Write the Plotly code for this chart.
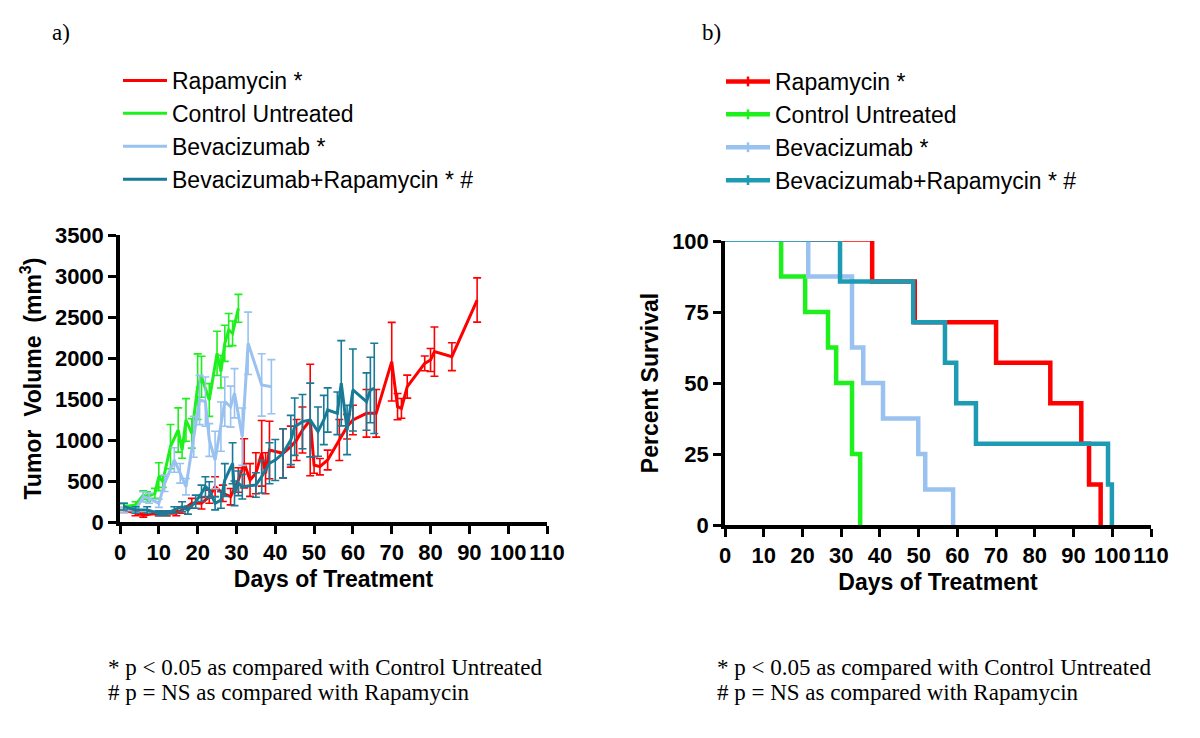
import plotly.graph_objects as go

# ---------------- Panel a: tumour volume ----------------
rapa_days = [1, 4, 6, 10, 12, 14.5, 16, 18.5, 21, 23, 24.5, 26.5, 28.5, 30.5, 32, 33.5, 35, 36.5, 37.5, 38.5,
             42, 44, 45.5, 47, 49, 50, 51.5, 53.5, 56.5, 58.5, 60, 63.5, 66, 70, 71.5, 72.5, 74, 78.5, 80, 81,
             85.5, 92]
rapa_vol = [146, 106, 85, 106, 106, 106, 146, 228, 228, 309, 431, 350, 309, 512, 716, 512, 594, 838, 594, 878,
            838, 919, 1000, 1122, 1244, 695, 675, 756, 1000, 1163, 1244, 1325, 1325, 1955, 1407, 1386, 1651, 1935,
            1976, 2078, 2016, 2707]
rapa_sem = [30, 30, 25, 30, 30, 30, 40, 60, 70, 80, 120, 100, 100, 150, 300, 200, 250, 400, 250, 350,
            300, 250, 250, 280, 680, 100, 100, 120, 250, 150, 180, 290, 290, 480, 160, 120, 140, 90, 140, 300,
            170, 270]

ctrl_days = [1, 4, 6, 7, 9, 10, 11, 13, 15, 16, 17, 18.5, 20, 21, 23, 25, 26, 27, 28, 29, 30.5]
ctrl_vol = [187, 207, 329, 309, 350, 553, 492, 919, 1122, 878, 1244, 1081, 1650, 1772, 1488, 2057, 1834, 2179,
            2342, 2301, 2606]
ctrl_sem = [40, 40, 50, 60, 60, 170, 70, 270, 270, 100, 260, 180, 400, 250, 200, 270, 200, 220, 200, 150, 170]

bev_days = [1, 4, 6, 7.5, 10, 11.5, 14, 15.5, 17, 19, 20.5, 22, 23, 24.5, 26, 27, 28.5, 29.5, 31.5, 33, 36.5, 39]
bev_vol = [146, 146, 309, 289, 228, 472, 756, 594, 431, 1040, 1488, 1468, 1000, 756, 1163, 1468, 1407, 1570,
           1040, 2179, 1671, 1650]
bev_sem = [30, 30, 60, 60, 50, 100, 150, 120, 100, 250, 300, 300, 200, 350, 300, 300, 250, 300, 350, 380, 380, 330]

combo_days = [1, 4, 7, 10, 12, 14, 16, 17.5, 19.5, 21, 22, 23, 24.5, 26, 27, 29, 29.5, 30.5, 31.5, 35,
              36.5, 38.5, 40, 42, 44, 45, 47, 49, 51, 52.5, 53.5, 56, 57, 58.5, 60, 63.5, 64.5, 65.5]
combo_vol = [187, 146, 146, 106, 106, 146, 187, 146, 248, 350, 431, 390, 228, 268, 512, 716, 350, 472, 431, 451,
             553, 716, 756, 838, 1000, 1163, 1224, 1244, 1102, 1244, 1366, 1325, 1692, 1122, 1610, 1468, 1610, 1630]
combo_sem = [40, 40, 40, 30, 30, 40, 60, 50, 80, 100, 120, 100, 80, 100, 200, 250, 150, 150, 150, 150,
             200, 250, 250, 300, 300, 350, 330, 450, 300, 300, 270, 260, 520, 300, 500, 350, 400, 550]

# ---------------- Panel b: survival ----------------
rapa_t = [38, 49, 70, 84, 92, 94, 97]
rapa_s = [85.7, 71.4, 57.1, 42.9, 28.6, 14.3, 0]
ctrl_t = [14.5, 20.7, 26.6, 28.7, 32.8, 34.9]
ctrl_s = [87.5, 75, 62.5, 50, 25, 0]
bev_t = [21.5, 32.8, 35.7, 40.8, 49.9, 51.7, 58.9]
bev_s = [87.5, 62.5, 50, 37.5, 25, 12.5, 0]
combo_t = [29.7, 48.6, 56.8, 59.7, 64.8, 98.9, 99.9]
combo_s = [85.7, 71.4, 57.1, 42.9, 28.6, 14.3, 0]

names = ["Rapamycin *", "Control Untreated", "Bevacizumab *", "Bevacizumab+Rapamycin * #"]
colors_a = ["#ff0000", "#1ef01e", "#99c2f0", "#187a96"]
colors_b = ["#ff0000", "#1ef01e", "#99c2f0", "#1c9bb3"]

# page body has an 8px margin: figure is placed at (8, 8) in the 1200x738 window
OFF = 8
W, H = 1200 - 2 * OFF, 738 - 2 * OFF


def px_x(p):
    return (p - OFF) / W


def px_y(p):
    return 1 - (p - OFF) / H


SANS = "Liberation Sans, Arial, sans-serif"
SERIF = "Liberation Serif, Times New Roman, serif"

fig = go.Figure()

tumor = [(rapa_days, rapa_vol, rapa_sem), (ctrl_days, ctrl_vol, ctrl_sem),
         (bev_days, bev_vol, bev_sem), (combo_days, combo_vol, combo_sem)]
for (d, v, s), nm, c in zip(tumor, names, colors_a):
    fig.add_trace(go.Scatter(
        x=d, y=v, mode="lines", name=nm, legend="legend", legendgroup="a" + nm,
        line=dict(color=c, width=3),
        error_y=dict(type="data", array=s, visible=True, color=c, thickness=1.6, width=4),
        xaxis="x", yaxis="y"))

surv = [(rapa_t, rapa_s), (ctrl_t, ctrl_s), (bev_t, bev_s), (combo_t, combo_s)]
for (t, s), nm, c in zip(surv, names, colors_b):
    # thin segment at 100 % before the first event
    fig.add_trace(go.Scatter(x=[0, t[0]], y=[100, 100], mode="lines", showlegend=False,
                             line=dict(color=c, width=1.6), xaxis="x2", yaxis="y2", hoverinfo="skip"))
    fig.add_trace(go.Scatter(x=[t[0]] + t, y=[100] + s, mode="lines", line_shape="hv", showlegend=False,
                             name=nm, line=dict(color=c, width=4.5), xaxis="x2", yaxis="y2"))
for nm, c in zip(names, colors_b):
    fig.add_trace(go.Scatter(x=[None], y=[None], mode="lines+markers", name=nm, legend="legend2",
                             legendgroup="b" + nm,
                             line=dict(color=c, width=4.5),
                             marker=dict(symbol="line-ns", size=7, line=dict(color=c, width=2.5)),
                             xaxis="x2", yaxis="y2"))

tickfont = dict(family=SANS, size=22, color="black", weight="bold")
titlefont = dict(family=SANS, size=23, color="black", weight="bold")
axis_common = dict(showline=True, linewidth=3.5, linecolor="black", ticks="outside", ticklen=8, tickwidth=3,
                   tickcolor="black", showgrid=False, zeroline=False, tickfont=tickfont, automargin=False,
                   fixedrange=True)
legfont = dict(family=SANS, size=23, color="black")

fig.update_layout(
    width=W, height=H, margin=dict(l=0, r=0, t=0, b=0),
    paper_bgcolor="white", plot_bgcolor="white",
    xaxis=dict(domain=[px_x(120), px_x(547)], range=[0, 110], tickvals=list(range(0, 111, 10)),
               title=dict(text="Days of Treatment", font=titlefont, standoff=8), anchor="y", **axis_common),
    yaxis=dict(domain=[px_y(522), px_y(235)], range=[0, 3500], tickvals=list(range(0, 3501, 500)),
               title=dict(text="Tumor\u00a0 Volume\u00a0 (mm<sup>3</sup>)", font=titlefont, standoff=8),
               anchor="x", **axis_common),
    xaxis2=dict(domain=[px_x(725), px_x(1151)], range=[0, 110], tickvals=list(range(0, 111, 10)),
                title=dict(text="Days of Treatment", font=titlefont, standoff=8), anchor="y2", **axis_common),
    yaxis2=dict(domain=[px_y(525), px_y(241)], range=[0, 100], tickvals=[0, 25, 50, 75, 100],
                title=dict(text="Percent Survival", font=titlefont, standoff=8), anchor="x2", **axis_common),
    legend=dict(x=px_x(118), y=px_y(59), xanchor="left", yanchor="top", traceorder="grouped",
                tracegroupgap=0, itemwidth=44, font=legfont, bgcolor="rgba(0,0,0,0)"),
    legend2=dict(x=px_x(721), y=px_y(60), xanchor="left", yanchor="top", traceorder="grouped",
                 tracegroupgap=0, itemwidth=44, font=legfont, bgcolor="rgba(0,0,0,0)"),
    showlegend=True,
)

notes = [
    ("a)", 50, 32), ("b)", 700, 32),
    ("* p < 0.05 as compared with Control Untreated", 106, 667),
    ("# p = NS as compared with Rapamycin", 106, 692),
    ("* p < 0.05 as compared with Control Untreated", 715, 667),
    ("# p = NS as compared with Rapamycin", 715, 692),
]
for txt, px, py in notes:
    fig.add_annotation(text=txt, xref="paper", yref="paper", x=px_x(px), y=px_y(py), xanchor="left",
                       yanchor="middle", showarrow=False, font=dict(family=SERIF, size=23, color="black"))

fig.write_html("out.html")
